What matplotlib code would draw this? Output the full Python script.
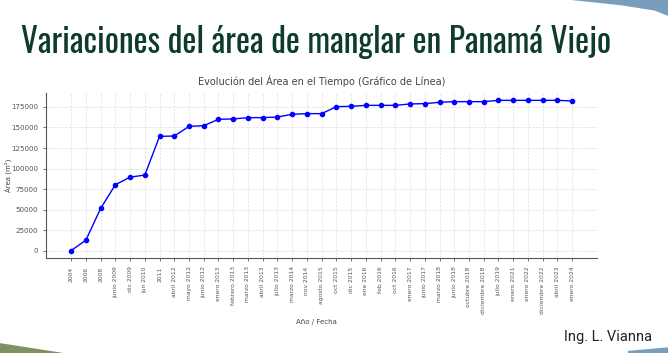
import matplotlib.pyplot as plt
from matplotlib.patches import Polygon

fechas = ["2004", "2006", "2008", "junio 2009", "dic 2009", "jun 2010", "2011",
          "abril 2012", "mayo 2012", "junio 2012", "enero 2013", "febrero 2013",
          "marzo 2013", "abril 2013", "julio 2013", "marzo 2014", "nov 2014",
          "agosto 2015", "oct 2015", "dic 2015", "ene 2016", "feb 2016", "oct 2016",
          "enero 2017", "junio 2017", "marzo 2018", "junio 2018", "octubre 2018",
          "diciembre 2018", "julio 2019", "enero 2021", "enero 2022",
          "diciembre 2022", "abril 2023", "enero 2024"]
area = [0, 12600, 51300, 80200, 89500, 92000, 139200,
        139600, 151400, 152200, 160000, 160400,
        162000, 162000, 162800, 166100, 166900,
        166900, 175400, 175800, 177000, 177000, 177000,
        178700, 179100, 180700, 181500, 181500,
        181500, 183100, 183100, 183100,
        183100, 183100, 182300]

gris = "#555555"

fig = plt.figure(figsize=(6.68, 3.53), dpi=100)

# slide decorations
fig.patches.append(Polygon([[0.855, 1.0], [0.93, 0.985], [0.98, 0.97], [1.0, 0.955], [1.0, 1.0]],
                           closed=True, transform=fig.transFigure, facecolor="#7b9dbc",
                           edgecolor="none"))
fig.patches.append(Polygon([[0.0, 0.028], [0.095, 0.0], [0.0, 0.0]],
                           closed=True, transform=fig.transFigure, facecolor="#7f9160",
                           edgecolor="none"))
fig.patches.append(Polygon([[0.94, 0.0], [0.94, 0.006], [1.0, 0.016], [1.0, 0.0]],
                           closed=True, transform=fig.transFigure, facecolor="#7b9dbc",
                           edgecolor="none"))

fig.text(0.032, 0.851, "Variaciones del área de manglar en Panamá Viejo",
         family=["Oswald", "Barlow Condensed", "DejaVu Sans"], fontweight="semibold",
         fontsize=24, color="#0d3b2c", ha="left", va="baseline")
fig.text(0.976, 0.035, "Ing. L. Vianna", family=["Roboto", "DejaVu Sans"],
         fontsize=10.5, color="#222222", ha="right", va="baseline")

ax = fig.add_axes([0.069, 0.269, 0.825, 0.468])
x = list(range(len(fechas)))
ax.plot(x, area, color="#0000ff", marker="o", markersize=3, linewidth=1)
ax.set_xticks(x)
ax.set_xticklabels(fechas, rotation=90)
ax.set_yticks(range(0, 175001, 25000))
ax.tick_params(colors=gris, length=2.5, width=0.6)
ax.tick_params(axis="x", labelsize=4.3)
ax.tick_params(axis="y", labelsize=5.1)
ax.grid(True, linestyle="--", color="#dddddd", linewidth=0.5)
ax.set_axisbelow(True)
for s in ["top", "right"]:
    ax.spines[s].set_visible(False)
for s in ["left", "bottom"]:
    ax.spines[s].set_color(gris)
    ax.spines[s].set_linewidth(0.8)
ax.set_title("Evolución del Área en el Tiempo (Gráfico de Línea)", fontsize=7, color="#444444", pad=6)
ax.set_ylabel("Área (m²)", fontsize=5, color="#444444")
ax.yaxis.set_label_coords(-0.06, 0.5)
ax.set_xlabel("Año / Fecha", fontsize=5, color="#444444")
ax.xaxis.set_label_coords(0.49, -0.37)

fig.savefig("out.png", dpi=100)
